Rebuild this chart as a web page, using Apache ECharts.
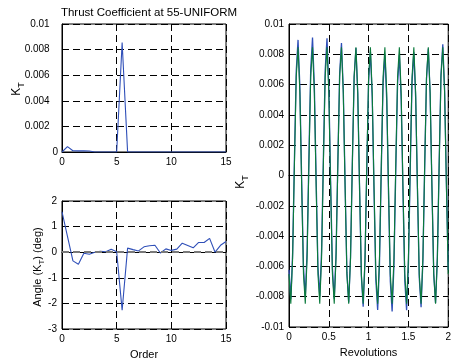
<!DOCTYPE html>
<html>
<head>
<meta charset="utf-8">
<script src="https://cdn.jsdelivr.net/npm/echarts@6/dist/echarts.min.js"></script>
<style>
html,body{margin:0;padding:0;background:#fff;}
#chart{width:454px;height:363px;}
</style>
</head>
<body>
<div id="chart"></div>
<script>
// ---- data ----
const titleText = 'Thrust Coefficient at 55-UNIFORM';
const orders = [0,0.5,1,1.5,2,2.5,3,3.5,4,4.5,5,5.5,6,6.5,7,7.5,8,8.5,9,9.5,10,10.5,11,11.5,12,12.5,13,13.5,14,14.5,15];
const ktMagnitude = [0,0.00042,0.0001,0.00009,0.00009,0.00008,0,0,0,0,0,0.00855,0,0,0,0,0,0,0,0,0,0,0,0,0,0,0,0,0,0,0];
const ktAngle = [1.58,0.62,-0.34,-0.47,-0.04,-0.08,0.0,0.04,0.02,0.12,0.02,-2.27,0.16,0.1,0.05,0.21,0.25,0.27,-0.03,0.13,0.07,0.12,0.35,0.26,0.17,0.38,0.38,0.54,0.0,0.27,0.42];
const revSamplesPerRev = 44; // time samples: index / 44 revolutions
const ktTotal = [
 -0.00623,-0.00816,-0.00513,0.00109,0.00690,0.00895,0.00590,-0.00028,
 -0.00605,-0.00800,-0.00499,0.00122,0.00701,0.00910,0.00597,-0.00023,
 -0.00602,-0.00799,-0.00499,0.00119,0.00696,0.00905,0.00588,-0.00034,
 -0.00614,-0.00813,-0.00515,0.00102,0.00677,0.00875,0.00567,-0.00057,
 -0.00638,-0.00838,-0.00541,0.00075,0.00650,0.00842,0.00539,-0.00085,
 -0.00667,-0.00866,-0.00569,0.00048,0.00623,0.00816,0.00513,-0.00109,
 -0.00690,-0.00888,-0.00590,0.00028,0.00605,0.00800,0.00499,-0.00122,
 -0.00701,-0.00897,-0.00597,0.00023,0.00602,0.00799,0.00499,-0.00119,
 -0.00696,-0.00890,-0.00588,0.00034,0.00614,0.00813,0.00515,-0.00102,
 -0.00677,-0.00870,-0.00567,0.00057,0.00638,0.00838,0.00541,-0.00075,
 -0.00650,-0.00842,-0.00539,0.00085,0.00667,0.00866,0.00569,-0.00048,
 -0.00623];
const ktOrder55 = [
 -0.00651,-0.00847,-0.00547,0.00073,0.00651,0.00847,0.00547,-0.00073,
 -0.00651,-0.00847,-0.00547,0.00073,0.00651,0.00847,0.00547,-0.00073,
 -0.00651,-0.00847,-0.00547,0.00073,0.00651,0.00847,0.00547,-0.00073,
 -0.00651,-0.00847,-0.00547,0.00073,0.00651,0.00847,0.00547,-0.00073,
 -0.00651,-0.00847,-0.00547,0.00073,0.00651,0.00847,0.00547,-0.00073,
 -0.00651,-0.00847,-0.00547,0.00073,0.00651,0.00847,0.00547,-0.00073,
 -0.00651,-0.00847,-0.00547,0.00073,0.00651,0.00847,0.00547,-0.00073,
 -0.00651,-0.00847,-0.00547,0.00073,0.00651,0.00847,0.00547,-0.00073,
 -0.00651,-0.00847,-0.00547,0.00073,0.00651,0.00847,0.00547,-0.00073,
 -0.00651,-0.00847,-0.00547,0.00073,0.00651,0.00847,0.00547,-0.00073,
 -0.00651,-0.00847,-0.00547,0.00073,0.00651,0.00847,0.00547,-0.00073,
 -0.00651];

// ---- styling ----
const FONT = '"Liberation Sans", Arial, Helvetica, sans-serif';
const BLUE = '#2f4fb8';
const GREEN = '#0a7a3c';
const dash = [7, 4];

function pairs(xs, ys){ return ys.map((v,i)=>[xs[i], v]); }
function timePairs(ys){ return ys.map((v,i)=>[i / revSamplesPerRev, v]); }

function valAxis(gridIndex, min, max, interval, extra){
  return Object.assign({
    type:'value', gridIndex, min, max, interval,
    axisLine:{show:true, lineStyle:{color:'#000', width:1}},
    axisTick:{show:true, inside:true, length:4, lineStyle:{color:'#000'}},
    axisLabel:{color:'#000', fontSize:10, fontFamily:FONT, margin:5},
    splitLine:{show:true, lineStyle:{color:'#000', type:dash, width:1}}
  }, extra||{});
}

const ctx = document.createElement('canvas').getContext('2d');
function subLabel(cx, cy, parts){
  let widths = parts.map(p=>{ ctx.font = p.s + 'px ' + FONT; return ctx.measureText(p.t).width; });
  const W = widths.reduce((a,b)=>a+b,0);
  let x = -W/2;
  const children = parts.map((p,i)=>{
    const el = {type:'text', x:x, y:p.dy, style:{text:p.t, fontSize:p.s, fontFamily:FONT, fill:'#000', align:'left', verticalAlign:'middle'}};
    x += widths[i];
    return el;
  });
  return {type:'group', x:cx, y:cy, rotation:Math.PI/2, children};
}

const chart = echarts.init(document.getElementById('chart'), null, {renderer:'canvas'});
const option = {
  animation:false,
  backgroundColor:'#fff',
  title:{text:titleText, left:144, top:2, textAlign:'center',
    textStyle:{fontSize:11.5, fontWeight:'normal', color:'#000', fontFamily:FONT}},
  grid:[
    {left:62, top:24, width:164, height:128, show:true, borderColor:'#000', borderWidth:1, containLabel:false},
    {left:62, top:201, width:164, height:128, show:true, borderColor:'#000', borderWidth:1, containLabel:false},
    {left:289, top:24, width:164, height:305, show:true, borderColor:'#000', borderWidth:1, containLabel:false}
  ],
  xAxis:[
    valAxis(0, 0, 15, 5),
    valAxis(1, 0, 15, 5, {name:'Order', nameLocation:'middle', nameGap:20, nameTextStyle:{fontSize:11, fontFamily:FONT, color:'#000'}}),
    valAxis(2, 0, 2, 0.5, {name:'Revolutions', nameLocation:'middle', nameGap:20, nameTextStyle:{fontSize:11, fontFamily:FONT, color:'#000'}})
  ],
  yAxis:[
    valAxis(0, 0, 0.01, 0.002, {axisLabel:{color:'#000', fontSize:10, fontFamily:FONT, margin:4,
      formatter: v => v === 0 ? '0' : (v + '   ')}}),
    valAxis(1, -3, 2, 1),
    valAxis(2, -0.01, 0.01, 0.002)
  ],
  series:[
    {type:'line', xAxisIndex:0, yAxisIndex:0, data:pairs(orders, ktMagnitude), symbol:'none', lineStyle:{color:BLUE, width:1.1}, itemStyle:{color:BLUE}},
    {type:'line', xAxisIndex:1, yAxisIndex:1, data:pairs(orders, ktAngle), symbol:'none', lineStyle:{color:BLUE, width:1.1}, itemStyle:{color:BLUE},
      markLine:{silent:true, symbol:'none', label:{show:false}, lineStyle:{color:'#7a7a7a', width:2, type:dash}, data:[{yAxis:0}]}},
    {type:'line', xAxisIndex:2, yAxisIndex:2, data:timePairs(ktTotal), symbol:'none', lineStyle:{color:BLUE, width:1.3}, itemStyle:{color:BLUE}},
    {type:'line', xAxisIndex:2, yAxisIndex:2, data:timePairs(ktOrder55), symbol:'none', lineStyle:{color:GREEN, width:1.1}, itemStyle:{color:GREEN}}
  ],
  graphic:[
    subLabel(17, 89, [{t:'K', s:12, dy:0}, {t:'T', s:9, dy:5}]),
    subLabel(38, 267, [{t:'Angle (K', s:11, dy:0}, {t:'T', s:8, dy:4}, {t:') (deg)', s:11, dy:0}]),
    subLabel(241, 182, [{t:'K', s:12, dy:0}, {t:'T', s:9, dy:5}])
  ]
};
chart.setOption(option);
</script>
</body>
</html>
